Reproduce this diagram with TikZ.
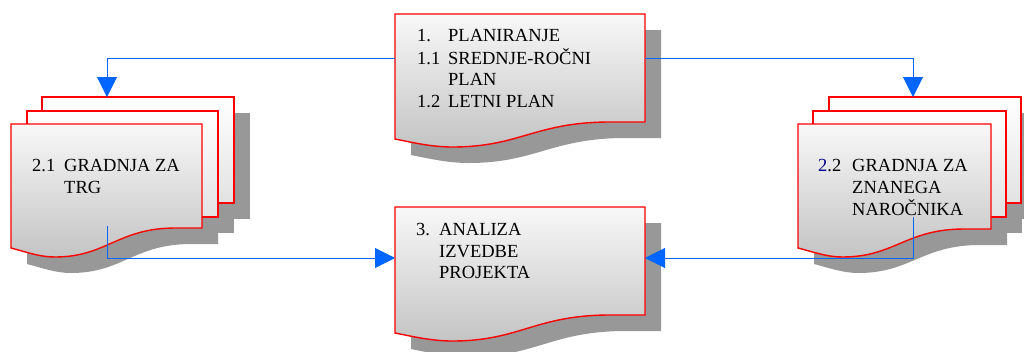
\documentclass[tikz,border=0pt]{standalone}
\usepackage{fontspec}
\setmainfont{Liberation Serif}
\usetikzlibrary{arrows.meta}

\definecolor{edgered}{RGB}{255,0,0}
\definecolor{linkblue}{RGB}{0,102,255}
\definecolor{shadowgray}{RGB}{152,152,152}
\definecolor{paperhi}{RGB}{248,248,248}
\definecolor{paperlo}{RGB}{196,196,196}
\definecolor{backhi}{RGB}{255,255,255}
\definecolor{backlo}{RGB}{226,226,226}
\definecolor{numblue}{RGB}{0,0,140}

\tikzset{
  % document outline: left, top, width, right-bottom y, left-bottom y, trough y
  docpath/.style n args={6}{insert path={
    (#1,#2) -- ({#1+#3},#2) -- ({#1+#3},#4) -- ({#1+0.86*#3},#4)
    .. controls ({#1+0.56*#3},#4) and ({#1+0.50*#3},#6) .. ({#1+0.23*#3},#6)
    .. controls ({#1+0.15*#3},#6) and ({#1+0.08*#3},{#5+4}) .. (#1,#5) -- cycle}},
  dropshadow/.style={fill=shadowgray, draw=none, shift={(16,16)}},
  frontpage/.style={top color=paperhi, bottom color=paperlo, draw=edgered, line width=1.4pt},
  backpage/.style={top color=backhi, bottom color=backlo, draw=edgered, line width=1.4pt},
  area/.style={inner sep=0pt, outer sep=0pt, anchor=north west, draw=none},
  label/.style={inner sep=0pt, anchor=base west, font=\fontsize{18.5}{21.5}\selectfont},
  conn/.style={draw=linkblue, line width=0.9pt, -{Triangle[length=20pt,width=20pt]}},
}
\newcommand\numcol[2]{\makebox[#1][l]{#2}}

\begin{document}
\begin{tikzpicture}[x=1pt,y=-1pt]
\useasboundingbox (0,0) rectangle (1024,351);
\clip (0,0) rectangle (1024,351);

% ---- shadows ----
\fill[dropshadow, docpath={395}{14}{250}{122}{139}{147}];
\fill[dropshadow, docpath={395}{207}{250}{315}{333}{341}];
\fill[dropshadow] (42,97) rectangle (234,203);
\fill[dropshadow] (27,111) rectangle (218,217);
\fill[dropshadow, docpath={11}{124}{191}{228}{248}{257}];
\fill[dropshadow] (829,97) rectangle (1021,203);
\fill[dropshadow] (813,111) rectangle (1006,217);
\fill[dropshadow, docpath={798}{124}{193}{229}{248}{257}];

% ---- 1. planning ----
\shadedraw[frontpage, docpath={395}{14}{250}{122}{139}{147}];
\node[area, minimum width=250pt, minimum height=108pt] (plan) at (395,14) {};

% ---- 3. analysis ----
\shadedraw[frontpage, docpath={395}{207}{250}{315}{333}{341}];
\node[area, minimum width=250pt, minimum height=102pt] (analiza) at (395,207) {};

% ---- 2.1 stack ----
\shadedraw[backpage] (42,97) rectangle (234,203);
\node[area, minimum width=192pt, minimum height=106pt] (trgC) at (42,97) {};
\shadedraw[backpage] (27,111) rectangle (218,217);
\node[area, minimum width=191pt, minimum height=106pt] (trgB) at (27,111) {};
\shadedraw[frontpage, docpath={11}{124}{191}{228}{248}{257}];
\node[area, minimum width=191pt, minimum height=104pt] (trgA) at (11,124) {};

% ---- 2.2 stack ----
\shadedraw[backpage] (829,97) rectangle (1021,203);
\node[area, minimum width=192pt, minimum height=106pt] (narC) at (829,97) {};
\shadedraw[backpage] (813,111) rectangle (1006,217);
\node[area, minimum width=193pt, minimum height=106pt] (narB) at (813,111) {};
\shadedraw[frontpage, docpath={798}{124}{193}{229}{248}{257}];
\node[area, minimum width=193pt, minimum height=105pt] (narA) at (798,124) {};

% ---- texts ----
\node[label] (plantext) at (417,41.7) {\begin{tabular}[t]{@{}l@{}}
\numcol{31pt}{1.}PLANIRANJE\\
\numcol{31pt}{1.1}SREDNJE-ROČNI\\
\numcol{31pt}{}PLAN\\
\numcol{31pt}{1.2}LETNI PLAN
\end{tabular}};

\node[label] (trgtext) at (32,171.5) {\begin{tabular}[t]{@{}l@{}}
\numcol{32pt}{2.1}GRADNJA ZA\\
\numcol{32pt}{}TRG
\end{tabular}};

\node[label] (nartext) at (818,171.5) {\begin{tabular}[t]{@{}l@{}}
\numcol{34pt}{\textcolor{numblue}{2}.2}GRADNJA ZA\\
\numcol{34pt}{}ZNANEGA\\
\numcol{34pt}{}NAROČNIKA
\end{tabular}};

\node[label] (analizatext) at (416,235.5) {\begin{tabular}[t]{@{}l@{}}
\numcol{23pt}{3.}ANALIZA\\
\numcol{23pt}{}IZVEDBE\\
\numcol{23pt}{}PROJEKTA
\end{tabular}};

% ---- connectors ----
\coordinate (trgout) at (107,226);
\coordinate (narout) at (913,217);
\draw[conn] ([yshift=10pt]plan.west) -| ([xshift=65pt]trgC.north west);
\draw[conn] ([yshift=10pt]plan.east) -| ([xshift=84pt]narC.north west);
\draw[conn] (trgout) |- ([yshift=-0pt]analiza.west);
\draw[conn] (narout) |- ([yshift=-0pt]analiza.east);
\end{tikzpicture}
\end{document}
